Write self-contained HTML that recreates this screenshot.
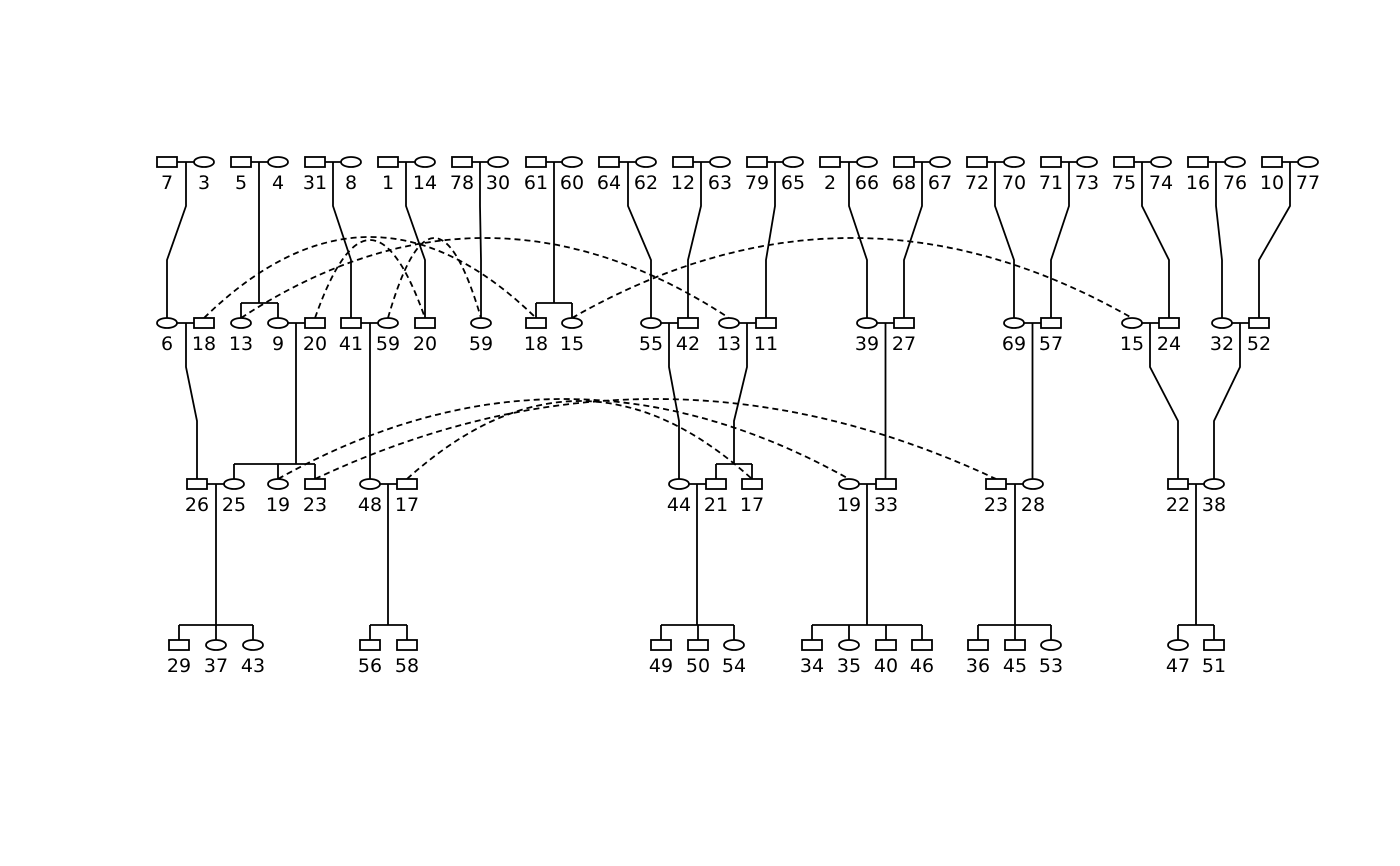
<!DOCTYPE html>
<html><head><meta charset="utf-8"><style>
html,body{margin:0;padding:0;background:#fff;}
svg{display:block;}
text{font-family:"DejaVu Sans","Liberation Sans",sans-serif;font-size:19px;fill:#000;text-anchor:middle;}
</style></head><body>
<svg width="1400" height="866" viewBox="0 0 1400 866" xmlns="http://www.w3.org/2000/svg">
<g fill="none" stroke="#000" stroke-width="1.8">
<path d="M177 162H194 M251 162H268 M325 162H341 M398 162H415 M472 162H488 M546 162H562 M619 162H636 M693 162H710 M767 162H783 M840 162H857 M914 162H930 M987 162H1004 M1061 162H1077 M1134 162H1151 M1208 162H1225 M1282 162H1298"/>
<path d="M186 162V206L167 260V318 M259 162V303 M241 303H278 M241 303V318 M278 303V318 M333 162V206L351 260V318 M406 162V206L425 260V318 M480 162V206L481 260V318 M554 162V303 M536 303H572 M536 303V318 M572 303V318 M628 162V206L651 260V318 M701 162V206L688 260V318 M775 162V206L766 260V318 M849 162V206L867 260V318 M922 162V206L904 260V318 M995 162V206L1014 260V318 M1069 162V206L1051 260V318 M1142 162V206L1169 260V318 M1216 162V206L1222 260V318 M1290 162V206L1259 260V318"/>
<path d="M177 323H194 M288 323H305 M361 323H378 M661 323H678 M739 323H756 M877 323H894 M1024 323H1041 M1142 323H1159 M1232 323H1249"/>
<path d="M186 323V367L197 421V479 M296 323V464 M234 464H315 M234 464V479 M278 464V479 M315 464V479 M370 323V479 M669 323V367L679 421V479 M747 323V367L734 421V464 M716 464H752 M716 464V479 M752 464V479 M885.5 323V479 M1032.5 323V479 M1150 323V367L1178 421V479 M1240 323V367L1214 421V479"/>
<path d="M207 484H224 M380 484H397 M689 484H706 M859 484H876 M1006 484H1023 M1188 484H1204"/>
<path d="M216 484V625 M179 625H253 M179 625V640 M216 625V640 M253 625V640 M388 484V625 M370 625H407 M370 625V640 M407 625V640 M697 484V625 M661 625H734 M661 625V640 M698 625V640 M734 625V640 M867 484V625 M812 625H922 M812 625V640 M849 625V640 M886 625V640 M922 625V640 M1015 484V625 M978 625H1051 M978 625V640 M1015 625V640 M1051 625V640 M1196 484V625 M1178 625H1214 M1178 625V640 M1214 625V640"/>
<g stroke-dasharray="6,4">
<path d="M204 318 Q370 156 536 318"/>
<path d="M241 318 Q485 158 729 318"/>
<path d="M315 318 Q370 162 425 318"/>
<path d="M388 318 Q434 158 481 318"/>
<path d="M572 318 Q852 158 1132 318"/>
<path d="M278 479 Q563 319 849 479"/>
<path d="M315 479 Q655 319 996 479"/>
<path d="M407 479 Q580 323 752 479"/>
</g>
</g>
<g fill="#fff" stroke="#000" stroke-width="1.8">
<rect x="157" y="157" width="20" height="10"/><ellipse cx="204" cy="162" rx="10" ry="5"/>
<rect x="231" y="157" width="20" height="10"/><ellipse cx="278" cy="162" rx="10" ry="5"/>
<rect x="305" y="157" width="20" height="10"/><ellipse cx="351" cy="162" rx="10" ry="5"/>
<rect x="378" y="157" width="20" height="10"/><ellipse cx="425" cy="162" rx="10" ry="5"/>
<rect x="452" y="157" width="20" height="10"/><ellipse cx="498" cy="162" rx="10" ry="5"/>
<rect x="526" y="157" width="20" height="10"/><ellipse cx="572" cy="162" rx="10" ry="5"/>
<rect x="599" y="157" width="20" height="10"/><ellipse cx="646" cy="162" rx="10" ry="5"/>
<rect x="673" y="157" width="20" height="10"/><ellipse cx="720" cy="162" rx="10" ry="5"/>
<rect x="747" y="157" width="20" height="10"/><ellipse cx="793" cy="162" rx="10" ry="5"/>
<rect x="820" y="157" width="20" height="10"/><ellipse cx="867" cy="162" rx="10" ry="5"/>
<rect x="894" y="157" width="20" height="10"/><ellipse cx="940" cy="162" rx="10" ry="5"/>
<rect x="967" y="157" width="20" height="10"/><ellipse cx="1014" cy="162" rx="10" ry="5"/>
<rect x="1041" y="157" width="20" height="10"/><ellipse cx="1087" cy="162" rx="10" ry="5"/>
<rect x="1114" y="157" width="20" height="10"/><ellipse cx="1161" cy="162" rx="10" ry="5"/>
<rect x="1188" y="157" width="20" height="10"/><ellipse cx="1235" cy="162" rx="10" ry="5"/>
<rect x="1262" y="157" width="20" height="10"/><ellipse cx="1308" cy="162" rx="10" ry="5"/>
<ellipse cx="167" cy="323" rx="10" ry="5"/><rect x="194" y="318" width="20" height="10"/>
<ellipse cx="241" cy="323" rx="10" ry="5"/><ellipse cx="278" cy="323" rx="10" ry="5"/><rect x="305" y="318" width="20" height="10"/>
<rect x="341" y="318" width="20" height="10"/><ellipse cx="388" cy="323" rx="10" ry="5"/><rect x="415" y="318" width="20" height="10"/>
<ellipse cx="481" cy="323" rx="10" ry="5"/>
<rect x="526" y="318" width="20" height="10"/><ellipse cx="572" cy="323" rx="10" ry="5"/>
<ellipse cx="651" cy="323" rx="10" ry="5"/><rect x="678" y="318" width="20" height="10"/>
<ellipse cx="729" cy="323" rx="10" ry="5"/><rect x="756" y="318" width="20" height="10"/>
<ellipse cx="867" cy="323" rx="10" ry="5"/><rect x="894" y="318" width="20" height="10"/>
<ellipse cx="1014" cy="323" rx="10" ry="5"/><rect x="1041" y="318" width="20" height="10"/>
<ellipse cx="1132" cy="323" rx="10" ry="5"/><rect x="1159" y="318" width="20" height="10"/>
<ellipse cx="1222" cy="323" rx="10" ry="5"/><rect x="1249" y="318" width="20" height="10"/>
<rect x="187" y="479" width="20" height="10"/><ellipse cx="234" cy="484" rx="10" ry="5"/>
<ellipse cx="278" cy="484" rx="10" ry="5"/><rect x="305" y="479" width="20" height="10"/>
<ellipse cx="370" cy="484" rx="10" ry="5"/><rect x="397" y="479" width="20" height="10"/>
<ellipse cx="679" cy="484" rx="10" ry="5"/><rect x="706" y="479" width="20" height="10"/><rect x="742" y="479" width="20" height="10"/>
<ellipse cx="849" cy="484" rx="10" ry="5"/><rect x="876" y="479" width="20" height="10"/>
<rect x="986" y="479" width="20" height="10"/><ellipse cx="1033" cy="484" rx="10" ry="5"/>
<rect x="1168" y="479" width="20" height="10"/><ellipse cx="1214" cy="484" rx="10" ry="5"/>
<rect x="169" y="640" width="20" height="10"/><ellipse cx="216" cy="645" rx="10" ry="5"/><ellipse cx="253" cy="645" rx="10" ry="5"/>
<rect x="360" y="640" width="20" height="10"/><rect x="397" y="640" width="20" height="10"/>
<rect x="651" y="640" width="20" height="10"/><rect x="688" y="640" width="20" height="10"/><ellipse cx="734" cy="645" rx="10" ry="5"/>
<rect x="802" y="640" width="20" height="10"/><ellipse cx="849" cy="645" rx="10" ry="5"/><rect x="876" y="640" width="20" height="10"/><rect x="912" y="640" width="20" height="10"/>
<rect x="968" y="640" width="20" height="10"/><rect x="1005" y="640" width="20" height="10"/><ellipse cx="1051" cy="645" rx="10" ry="5"/>
<ellipse cx="1178" cy="645" rx="10" ry="5"/><rect x="1204" y="640" width="20" height="10"/>
</g>
<g>
<text x="167" y="189">7</text><text x="204" y="189">3</text><text x="241" y="189">5</text><text x="278" y="189">4</text>
<text x="315" y="189">31</text><text x="351" y="189">8</text><text x="388" y="189">1</text><text x="425" y="189">14</text>
<text x="462" y="189">78</text><text x="498" y="189">30</text><text x="536" y="189">61</text><text x="572" y="189">60</text>
<text x="609" y="189">64</text><text x="646" y="189">62</text><text x="683" y="189">12</text><text x="720" y="189">63</text>
<text x="757" y="189">79</text><text x="793" y="189">65</text><text x="830" y="189">2</text><text x="867" y="189">66</text>
<text x="904" y="189">68</text><text x="940" y="189">67</text><text x="977" y="189">72</text><text x="1014" y="189">70</text>
<text x="1051" y="189">71</text><text x="1087" y="189">73</text><text x="1124" y="189">75</text><text x="1161" y="189">74</text>
<text x="1198" y="189">16</text><text x="1235" y="189">76</text><text x="1272" y="189">10</text><text x="1308" y="189">77</text>

<text x="167" y="350">6</text><text x="204" y="350">18</text><text x="241" y="350">13</text><text x="278" y="350">9</text>
<text x="315" y="350">20</text><text x="351" y="350">41</text><text x="388" y="350">59</text><text x="425" y="350">20</text>
<text x="481" y="350">59</text><text x="536" y="350">18</text><text x="572" y="350">15</text>
<text x="651" y="350">55</text><text x="688" y="350">42</text><text x="729" y="350">13</text><text x="766" y="350">11</text>
<text x="867" y="350">39</text><text x="904" y="350">27</text><text x="1014" y="350">69</text><text x="1051" y="350">57</text>
<text x="1132" y="350">15</text><text x="1169" y="350">24</text><text x="1222" y="350">32</text><text x="1259" y="350">52</text>

<text x="197" y="511">26</text><text x="234" y="511">25</text><text x="278" y="511">19</text><text x="315" y="511">23</text>
<text x="370" y="511">48</text><text x="407" y="511">17</text>
<text x="679" y="511">44</text><text x="716" y="511">21</text><text x="752" y="511">17</text>
<text x="849" y="511">19</text><text x="886" y="511">33</text>
<text x="996" y="511">23</text><text x="1033" y="511">28</text>
<text x="1178" y="511">22</text><text x="1214" y="511">38</text>

<text x="179" y="672">29</text><text x="216" y="672">37</text><text x="253" y="672">43</text>
<text x="370" y="672">56</text><text x="407" y="672">58</text>
<text x="661" y="672">49</text><text x="698" y="672">50</text><text x="734" y="672">54</text>
<text x="812" y="672">34</text><text x="849" y="672">35</text><text x="886" y="672">40</text><text x="922" y="672">46</text>
<text x="978" y="672">36</text><text x="1015" y="672">45</text><text x="1051" y="672">53</text>
<text x="1178" y="672">47</text><text x="1214" y="672">51</text>
</g>
</svg>
</body></html>
